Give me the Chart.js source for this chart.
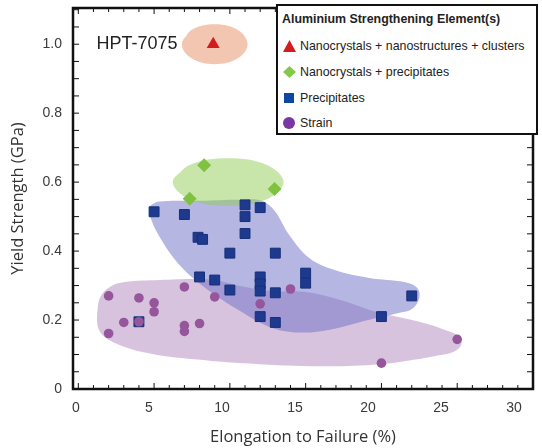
<!DOCTYPE html>
<html>
<head>
<meta charset="utf-8">
<script src="https://cdn.jsdelivr.net/npm/chart.js@4.4.0/dist/chart.umd.min.js"></script>
<style>
  html, body { margin: 0; padding: 0; background: #fff; }
  #wrap { position: relative; width: 542px; height: 448px; }
  #legend {
    position: absolute; left: 276px; top: 4px; width: 262px; height: 131px;
    border: 2.5px solid #111; background: #fff; box-sizing: border-box;
    font-family: Arial, "Liberation Sans", sans-serif; font-size: 12.4px; color: #222;
  }
  #legend .ttl { position: absolute; left: 4px; top: 6px; font-weight: bold; }
  #legend .row { position: absolute; left: 5px; height: 14px; line-height: 14px; white-space: nowrap; }
  #legend .row svg { position: absolute; left: 0; top: 1px; }
  #legend .row span { position: absolute; left: 17px; top: 0; }
</style>
</head>
<body>
<div id="wrap">
  <canvas id="chart" width="542" height="448"></canvas>
  <div id="legend">
    <div class="ttl">Aluminium Strengthening Element(s)</div>
    <div class="row" style="top:33px"><svg width="13" height="12"><polygon points="6.5,0 13,12 0,12" fill="#d31d1d"/></svg><span>Nanocrystals + nanostructures + clusters</span></div>
    <div class="row" style="top:59px"><svg width="13" height="12"><polygon points="6.5,0 13,6 6.5,12 0,6" fill="#86c94a"/></svg><span>Nanocrystals + precipitates</span></div>
    <div class="row" style="top:85px"><svg width="13" height="12"><rect x="1" y="1" width="10" height="10" fill="#0d47a1"/></svg><span>Precipitates</span></div>
    <div class="row" style="top:110px"><svg width="13" height="12"><circle cx="6" cy="6" r="6" fill="#7a36a3"/></svg><span>Strain</span></div>
  </div>
</div>
<script>
// data: elongation (%) and yield strength (GPa)
var hptX = [8.9];
var hptY = [1.0];
var nanoPrecX = [8.3, 12.95, 7.35];
var nanoPrecY = [0.649, 0.58, 0.552];
var precipX = [5, 7, 7.9, 8.2, 10, 11, 11, 11, 12, 13, 8, 9, 10, 12, 12, 12, 13, 15, 15, 12, 13, 20, 22, 4];
var precipY = [0.514, 0.506, 0.44, 0.434, 0.394, 0.534, 0.5, 0.451, 0.526, 0.394, 0.325, 0.316, 0.287, 0.325, 0.305, 0.284, 0.279, 0.336, 0.307, 0.21, 0.193, 0.21, 0.27, 0.195];
var strainX = [2, 4, 5, 5, 7, 9, 3, 4, 7, 7, 8, 2, 12, 14, 25, 20];
var strainY = [0.27, 0.264, 0.25, 0.224, 0.296, 0.267, 0.193, 0.195, 0.184, 0.167, 0.19, 0.161, 0.247, 0.29, 0.144, 0.075];

// outlines of the shaded regions
var hptZoneX = [6.83, 7.47, 9.0, 10.53, 11.17, 10.53, 9.0, 7.47];
var hptZoneY = [1.0, 1.041, 1.058, 1.041, 1.0, 0.959, 0.942, 0.959];
var nanoZoneX = [6.23, 7.3, 9.89, 12.48, 13.55, 12.48, 9.89, 7.3];
var nanoZoneY = [0.6, 0.649, 0.669, 0.649, 0.6, 0.551, 0.531, 0.551];
var precipZoneX = [4.72, 5.24, 8.01, 10.65, 12.1, 12.95, 13.94, 15.26, 16.91, 19.2, 21.52, 22.37, 22.5, 22.04, 21.19, 19.2, 16.57, 14.6, 12.75, 10.65, 8.47, 6.69, 5.38, 4.72];
var precipZoneY = [0.529, 0.543, 0.546, 0.549, 0.546, 0.517, 0.445, 0.379, 0.345, 0.322, 0.31, 0.293, 0.264, 0.233, 0.221, 0.201, 0.172, 0.164, 0.178, 0.227, 0.29, 0.359, 0.44, 0.503];
var strainZoneX = [1.23, 1.42, 2.08, 3.07, 5.38, 7.68, 9.0, 10.65, 12.95, 14.92, 17.23, 19.87, 22.5, 24.15, 25.14, 25.27, 24.81, 23.82, 21.84, 19.87, 16.57, 11.96, 7.68, 4.39, 2.21, 1.42];
var strainZoneY = [0.207, 0.264, 0.296, 0.31, 0.316, 0.319, 0.316, 0.299, 0.284, 0.282, 0.259, 0.221, 0.195, 0.172, 0.152, 0.129, 0.109, 0.098, 0.083, 0.072, 0.066, 0.072, 0.086, 0.106, 0.138, 0.167];

var xTicks = [0, 5, 10, 15, 20, 25, 30];
var yTicks = [0, 0.2, 0.4, 0.6, 0.8, 1.0];

function pts(xs, ys) {
    return xs.map(function (v, i) { return {x: v, y: ys[i]}; });
}
// close the outline and run one segment past the start so the join is smooth
function loop(xs, ys) {
    var p = pts(xs, ys);
    return p.concat([p[0], p[1]]);
}
function zone(data, color) {
    return {
        type: 'line', data: data, backgroundColor: color, borderWidth: 0,
        pointRadius: 0, fill: 'shape', tension: 0.375
    };
}

var frame = {
    id: 'frame',
    afterDatasetsDraw: function (chart) {
        var ctx = chart.ctx, a = chart.chartArea, x = chart.scales.x, y = chart.scales.y;
        ctx.save();
        ctx.strokeStyle = '#111';
        ctx.lineWidth = 1;
        ctx.beginPath();
        for (var v = 0; v <= 30; v++) {
            var px = x.getPixelForValue(v);
            var len = v % 5 === 0 ? 6 : 4;
            ctx.moveTo(px, a.bottom); ctx.lineTo(px, a.bottom - len);
            ctx.moveTo(px, a.top); ctx.lineTo(px, a.top + len);
        }
        for (var i = 0; i <= 22; i++) {
            var py = y.getPixelForValue(i * 0.05);
            ctx.moveTo(a.left, py); ctx.lineTo(a.left + 6, py);
            ctx.moveTo(a.right, py); ctx.lineTo(a.right - 6, py);
        }
        ctx.stroke();
        ctx.lineWidth = 2.5;
        ctx.strokeRect(a.left, a.top, a.right - a.left, a.bottom - a.top);
        ctx.font = '18px Arial, "Liberation Sans", sans-serif';
        ctx.fillStyle = '#222';
        ctx.textAlign = 'right';
        ctx.textBaseline = 'middle';
        ctx.fillText('HPT-7075', x.getPixelForValue(6.55), y.getPixelForValue(1.0));
        ctx.restore();
    }
};

var tickFont = {family: 'Arial, "Liberation Sans", sans-serif', size: 14};
var titleFont = {family: '"Open Sans", sans-serif', size: 16.5};

new Chart(document.getElementById('chart'), {
    type: 'scatter',
    data: {
        datasets: [
            {data: pts(hptX, hptY), pointStyle: 'triangle', pointRadius: 7.5, backgroundColor: '#d31d1d', borderWidth: 0},
            {data: pts(nanoPrecX, nanoPrecY), pointStyle: 'rectRot', pointRadius: 7, backgroundColor: '#7fc241', borderWidth: 0},
            {data: pts(strainX, strainY), pointStyle: 'circle', pointRadius: 4.8, backgroundColor: '#96569b', borderWidth: 0},
            {data: pts(precipX, precipY), pointStyle: 'rect', pointRadius: 7, backgroundColor: '#1e3a8f', borderColor: '#172f78', borderWidth: 1},
            zone(loop(hptZoneX, hptZoneY), '#f3c6b2'),
            zone(loop(nanoZoneX, nanoZoneY), 'rgba(145,205,85,0.5)'),
            zone(loop(precipZoneX, precipZoneY), 'rgba(110,110,200,0.5)'),
            zone(loop(strainZoneX, strainZoneY), 'rgba(175,135,190,0.5)')
        ]
    },
    options: {
        responsive: false,
        animation: false,
        events: [],
        layout: {padding: {left: 0, right: 9, top: 5, bottom: 0}},
        plugins: {legend: {display: false}, tooltip: {enabled: false}},
        scales: {
            x: {display: false, min: -0.35, max: 30},
            x2: {
                type: 'linear', position: 'bottom', min: -0.2, max: 31.3,
                grid: {display: false, drawTicks: false}, border: {display: false},
                afterBuildTicks: function (s) { s.ticks = xTicks.map(function (v) { return {value: v}; }); },
                ticks: {font: tickFont, color: '#3a3a3a', padding: 11, maxRotation: 0},
                title: {display: true, text: 'Elongation to Failure (%)', font: titleFont, color: '#333', padding: {top: 0, bottom: 1}},
                afterFit: function (s) { s.height = 59; s.paddingLeft = 0; s.paddingRight = 0; }
            },
            y: {
                min: 0, max: 1.105,
                grid: {display: false, drawTicks: false}, border: {display: false},
                afterBuildTicks: function (s) { s.ticks = yTicks.map(function (v) { return {value: v}; }); },
                ticks: {
                    font: tickFont, color: '#3a3a3a', padding: 11,
                    callback: function (v) { return v === 0 ? '0' : v.toFixed(1); }
                },
                title: {display: true, text: 'Yield Strength (GPa)', font: titleFont, color: '#333', padding: {top: 8, bottom: 0}},
                afterFit: function (s) { s.width = 73; s.paddingTop = 0; s.paddingBottom = 0; }
            }
        }
    },
    plugins: [frame]
});
</script>
</body>
</html>
